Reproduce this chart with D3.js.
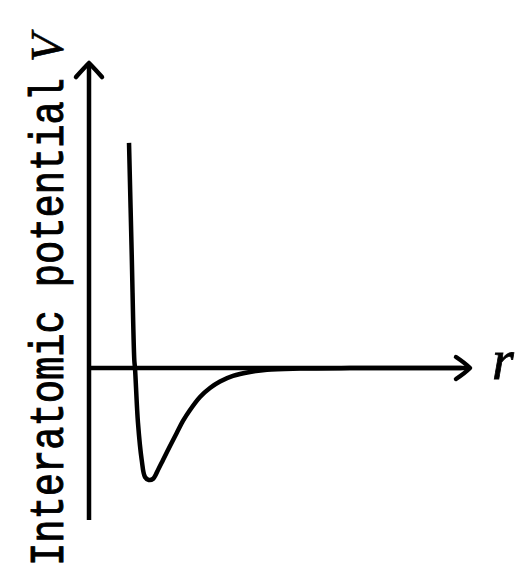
<!DOCTYPE html>
<html>
<head>
<meta charset="utf-8">
<script src="https://cdn.jsdelivr.net/npm/d3@7"></script>
<style>
  html, body { margin: 0; padding: 0; background: #fff; }
  svg { display: block; }
</style>
</head>
<body>
<svg id="chart" width="524" height="588"></svg>
<script>
// ---- data (arbitrary units: r in units of σ-ish, V in units of well depth) ----
const rValues = [0.87, 0.928, 0.985, 1.0, 1.065, 1.146, 1.217, 1.30, 1.391, 1.50, 1.609, 1.761, 1.907, 2.043, 2.196, 2.413, 2.63, 2.848, 3.13, 3.5, 3.87, 4.587, 5.674, 7.2, 8.1];
const vValues = [2.01, 1.027, 0.071, 0.0, -0.491, -0.821, -0.973, -1.0, -0.99, -0.91, -0.821, -0.696, -0.58, -0.473, -0.375, -0.259, -0.179, -0.121, -0.071, -0.036, -0.015, -0.005, -0.001, 0.0, 0.0];
const rDomain = [0, 8.283];
const vDomain = [-1.357, 2.723];
const yLabelText = "Interatomic potential";
const yLabelVar = "V";
const xLabelVar = "r";

const svg = d3.select("#chart");
const x = d3.scaleLinear().domain(rDomain).range([89, 470]);
const y = d3.scaleLinear().domain(vDomain).range([520, 63]);

const ink = "#000";
const sw = 4.5;

// axes
const x0 = x(0), y0 = y(0);
svg.append("line")
  .attr("x1", x0).attr("y1", y(vDomain[0]))
  .attr("x2", x0).attr("y2", y(vDomain[1]) + 1)
  .attr("stroke", ink).attr("stroke-width", sw);
svg.append("line")
  .attr("x1", x0).attr("y1", y0)
  .attr("x2", x(rDomain[1]) - 1).attr("y2", y0)
  .attr("stroke", ink).attr("stroke-width", sw);

// arrowheads (open chevrons)
const tipY = y(vDomain[1]);
svg.append("path")
  .attr("d", `M${x0 - 13},${tipY + 14} Q${x0 - 5},${tipY + 5} ${x0},${tipY} Q${x0 + 5},${tipY + 5} ${x0 + 13},${tipY + 14}`)
  .attr("fill", "none").attr("stroke", ink).attr("stroke-width", sw)
  .attr("stroke-linecap", "round").attr("stroke-linejoin", "round");
const tipX = x(rDomain[1]);
svg.append("path")
  .attr("d", `M${tipX - 14},${y0 - 11} Q${tipX - 5},${y0 - 5} ${tipX},${y0} Q${tipX - 5},${y0 + 5} ${tipX - 14},${y0 + 11}`)
  .attr("fill", "none").attr("stroke", ink).attr("stroke-width", sw)
  .attr("stroke-linecap", "round").attr("stroke-linejoin", "round");

// potential curve
const pts = rValues.map((r, i) => [r, vValues[i]]);
const line = d3.line()
  .x(d => x(d[0])).y(d => y(d[1]))
  .curve(d3.curveCatmullRom.alpha(0.5));
svg.append("path")
  .datum(pts)
  .attr("d", line)
  .attr("fill", "none").attr("stroke", ink).attr("stroke-width", sw)
  .attr("stroke-linecap", "butt").attr("stroke-linejoin", "round");

// y label
svg.append("text")
  .attr("transform", "translate(62.5,566) rotate(-90) scale(1,1.18)")
  .attr("font-family", "'Liberation Mono', 'DejaVu Sans Mono', monospace")
  .attr("font-size", 40)
  .attr("textLength", 488)
  .attr("lengthAdjust", "spacingAndGlyphs")
  .attr("fill", ink)
  .attr("stroke", ink).attr("stroke-width", 0.8)
  .text(yLabelText);
svg.append("text")
  .attr("transform", "translate(62.5,62) rotate(-90)")
  .attr("font-family", "'Liberation Serif', 'DejaVu Serif', serif")
  .attr("font-style", "italic")
  .attr("font-size", 46)
  .attr("fill", ink)
  .attr("stroke", ink).attr("stroke-width", 0.6)
  .text(yLabelVar);

// x label
svg.append("text")
  .attr("x", 492).attr("y", 379)
  .attr("font-family", "'Liberation Serif', 'DejaVu Serif', serif")
  .attr("font-style", "italic")
  .attr("font-size", 56)
  .attr("fill", ink)
  .attr("stroke", ink).attr("stroke-width", 0.8)
  .text(xLabelVar);
</script>
</body>
</html>
